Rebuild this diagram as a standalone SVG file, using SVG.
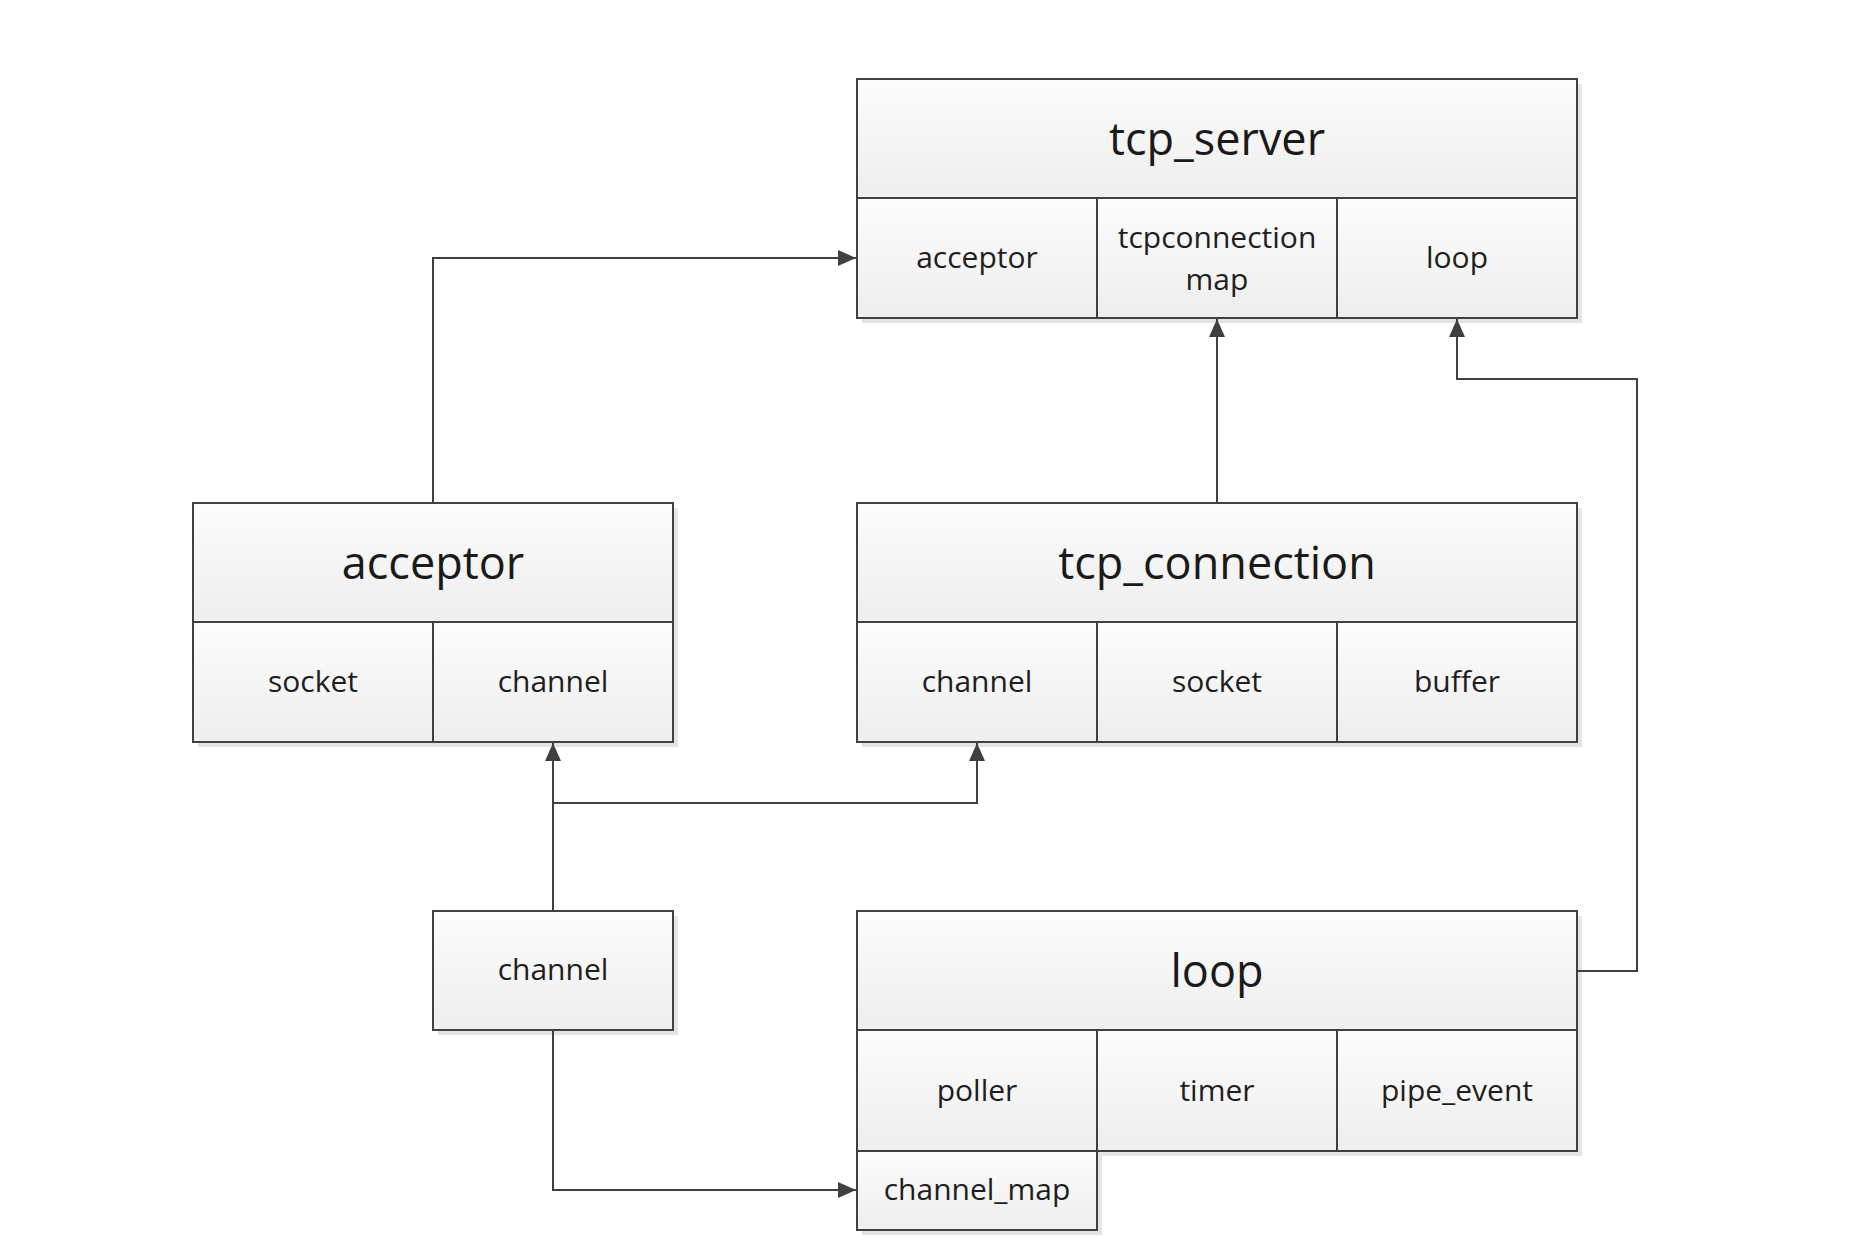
<svg xmlns="http://www.w3.org/2000/svg" width="1870" height="1246" viewBox="0 0 1870 1246">
<style>
.shadow{fill:#e4e4e4;stroke:none}
.cell{fill:url(#g);stroke:#404040;stroke-width:2}
.title{font-family:"Open Sans","Noto Sans",sans-serif;font-size:45px;fill:#1a1a1a;text-anchor:middle}
.sub{font-family:"Open Sans","Noto Sans",sans-serif;font-size:30px;fill:#1e1e1e;text-anchor:middle}
.conn{fill:none;stroke:#404040;stroke-width:2}
</style>
<defs>
<linearGradient id="g" x1="0" y1="0" x2="0" y2="1">
<stop offset="0" stop-color="#fcfcfc"/>
<stop offset="1" stop-color="#eeeeee"/>
</linearGradient>
<marker id="arr" viewBox="0 0 18 18" refX="18" refY="9" markerWidth="18" markerHeight="18" markerUnits="userSpaceOnUse" orient="auto">
<path d="M0,1 L18,9 L0,17 z" fill="#404040"/>
</marker>
</defs>
<rect width="1870" height="1246" fill="#ffffff"/>

<g id="tcp_server">
<rect class="shadow" x="862" y="84" width="720" height="239"/>
<rect class="cell" x="857" y="79" width="720" height="119"/>
<rect class="cell" x="857" y="198" width="240" height="120"/>
<rect class="cell" x="1097" y="198" width="240" height="120"/>
<rect class="cell" x="1337" y="198" width="240" height="120"/>
<text class="title" x="1217" y="155">tcp_server</text>
<text class="sub" x="977" y="268">acceptor</text>
<text class="sub" x="1217" y="248">tcpconnection</text>
<text class="sub" x="1217" y="290">map</text>
<text class="sub" x="1457" y="268">loop</text>
</g>

<g id="acceptor">
<rect class="shadow" x="198" y="508" width="480" height="239"/>
<rect class="cell" x="193" y="503" width="480" height="119"/>
<rect class="cell" x="193" y="622" width="240" height="120"/>
<rect class="cell" x="433" y="622" width="240" height="120"/>
<text class="title" x="433" y="579">acceptor</text>
<text class="sub" x="313" y="692">socket</text>
<text class="sub" x="553" y="692">channel</text>
</g>

<g id="tcp_connection">
<rect class="shadow" x="862" y="508" width="720" height="239"/>
<rect class="cell" x="857" y="503" width="720" height="119"/>
<rect class="cell" x="857" y="622" width="240" height="120"/>
<rect class="cell" x="1097" y="622" width="240" height="120"/>
<rect class="cell" x="1337" y="622" width="240" height="120"/>
<text class="title" x="1217" y="579">tcp_connection</text>
<text class="sub" x="977" y="692">channel</text>
<text class="sub" x="1217" y="692">socket</text>
<text class="sub" x="1457" y="692">buffer</text>
</g>

<g id="channel">
<rect class="shadow" x="438" y="916" width="240" height="119"/>
<rect class="cell" x="433" y="911" width="240" height="119"/>
<text class="sub" x="553" y="980">channel</text>
</g>

<g id="loop">
<rect class="shadow" x="862" y="916" width="720" height="240"/>
<rect class="shadow" x="862" y="1156" width="240" height="79"/>
<rect class="cell" x="857" y="1151" width="240" height="79"/>
<rect class="cell" x="857" y="911" width="720" height="119"/>
<rect class="cell" x="857" y="1030" width="240" height="121"/>
<rect class="cell" x="1097" y="1030" width="240" height="121"/>
<rect class="cell" x="1337" y="1030" width="240" height="121"/>
<text class="title" x="1217" y="987">loop</text>
<text class="sub" x="977" y="1101">poller</text>
<text class="sub" x="1217" y="1101">timer</text>
<text class="sub" x="1457" y="1101">pipe_event</text>
<text class="sub" x="977" y="1200">channel_map</text>
</g>

<g id="connectors">
<path class="conn" d="M433,502 V258 H856" marker-end="url(#arr)"/>
<path class="conn" d="M1217,502 V319" marker-end="url(#arr)"/>
<path class="conn" d="M1578,971 H1637 V379 H1457 V319" marker-end="url(#arr)"/>
<path class="conn" d="M553,910 V743" marker-end="url(#arr)"/>
<path class="conn" d="M553,803 H977 V743" marker-end="url(#arr)"/>
<path class="conn" d="M553,1031 V1190 H856" marker-end="url(#arr)"/>
</g>
</svg>
